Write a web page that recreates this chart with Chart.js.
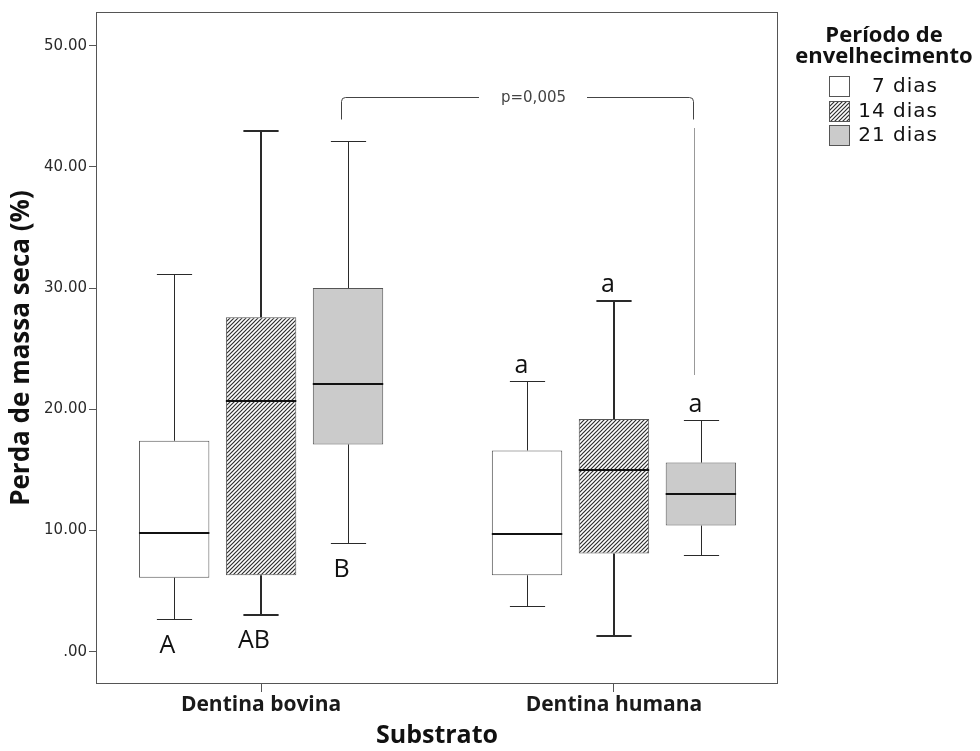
<!DOCTYPE html>
<html><head><meta charset="utf-8">
<script src="https://cdn.jsdelivr.net/npm/chart.js@4"></script>
<style>html,body{margin:0;padding:0;background:#fff}#wrap{width:980px;height:751px}</style>
</head><body><div id="wrap"><canvas id="c" width="980" height="751"></canvas></div>
<script>
// ---- data ----
const categories = ['Dentina bovina', 'Dentina humana'];
const categoryPositions = [1, 2];
const seriesNames = ['7 dias', '14 dias', '21 dias'];
// [series][category]
const lowerWhisker  = [[2.7, 3.8], [3.0, 1.3], [9.0, 8.0]];
const firstQuartile = [[6.1, 6.3], [6.3, 8.1], [17.1, 10.4]];
const medians       = [[9.8, 9.7], [20.7, 15.0], [22.1, 13.0]];
const thirdQuartile = [[17.4, 16.6], [27.6, 19.2], [30.0, 15.6]];
const upperWhisker  = [[31.2, 22.3], [43.0, 28.9], [42.1, 19.1]];
const groupLetters  = [['A', 'a'], ['AB', 'a'], ['B', 'a']];
const yTickValues = [0, 10, 20, 30, 40, 50];
const yTickLabels = ['.00', '10.00', '20.00', '30.00', '40.00', '50.00'];
const pValueLabel = 'p=0,005';
const bracketLevel = 45.8;
const legendTitle = ['Período de', 'envelhecimento'];
const yAxisTitle = 'Perda de massa seca (%)';
const xAxisTitle = 'Substrato';

// ---- styles ----
const canvas = document.getElementById('c');
const mainCtx = canvas.getContext('2d');
function makeHatch() {
  const p = document.createElement('canvas');
  p.width = 4; p.height = 4;
  const g = p.getContext('2d');
  g.fillStyle = '#ffffff'; g.fillRect(0, 0, 4, 4);
  g.strokeStyle = '#2e2e2e'; g.lineWidth = 1.2;
  g.beginPath();
  g.moveTo(0, 4); g.lineTo(4, 0);
  g.moveTo(-1, 1); g.lineTo(1, -1);
  g.moveTo(3, 5); g.lineTo(5, 3);
  g.stroke();
  return mainCtx.createPattern(p, 'repeat');
}
const fills = ['#ffffff', makeHatch(), '#cbcbcb'];
const whiskerWidths = [1, 2, 1];
const letterPlacement = ['below', 'above'];

const boxExtras = {
  id: 'boxExtras',
  afterDatasetsDraw(chart) {
    const ctx = chart.ctx, y = chart.scales.y;
    ctx.save();
    const centers = [];
    chart.data.datasets.forEach((ds, s) => {
      const meta = chart.getDatasetMeta(s);
      centers[s] = [];
      meta.data.forEach((bar, c) => {
        const lw = whiskerWidths[s];
        const off = lw % 2 ? 0.5 : 0;
        const cx = Math.round(bar.x) + off;
        centers[s][c] = cx;
        const half = bar.width / 2;
        const yMin = Math.round(y.getPixelForValue(lowerWhisker[s][c])) + off;
        const yMax = Math.round(y.getPixelForValue(upperWhisker[s][c])) + off;
        const yQ1 = y.getPixelForValue(firstQuartile[s][c]);
        const yQ3 = y.getPixelForValue(thirdQuartile[s][c]);
        const yMed = Math.round(y.getPixelForValue(medians[s][c]));
        ctx.strokeStyle = '#2a2a2a';
        ctx.lineWidth = lw;
        ctx.beginPath();
        ctx.moveTo(cx, yQ3); ctx.lineTo(cx, yMax);
        ctx.moveTo(cx - half / 2, yMax); ctx.lineTo(cx + half / 2, yMax);
        ctx.moveTo(cx, yQ1); ctx.lineTo(cx, yMin);
        ctx.moveTo(cx - half / 2, yMin); ctx.lineTo(cx + half / 2, yMin);
        ctx.stroke();
        ctx.strokeStyle = '#111';
        ctx.lineWidth = 2;
        ctx.beginPath();
        ctx.moveTo(bar.x - half, yMed); ctx.lineTo(bar.x + half, yMed);
        ctx.stroke();
        // letters
        ctx.fillStyle = '#111';
        ctx.font = '25px "Open Sans"';
        ctx.textAlign = 'center';
        ctx.textBaseline = 'alphabetic';
        if (letterPlacement[c] === 'below') {
          ctx.fillText(groupLetters[s][c], cx - 7, yMin + 33);
        } else {
          ctx.fillText(groupLetters[s][c], cx - 6, yMax - 9);
        }
      });
    });
    // significance bracket between 21 dias of both substrates
    const xl = Math.round(centers[2][0] - 8) + 0.5;
    const xr = Math.round(centers[2][1] - 9) + 0.5;
    const yt = Math.round(y.getPixelForValue(bracketLevel)) + 0.5;
    const yb = yt + 22;
    ctx.font = '15px "DejaVu Sans"';
    const tw = ctx.measureText(pValueLabel).width;
    const tc = (xl + xr) / 2 + 16;
    ctx.strokeStyle = '#444';
    ctx.lineWidth = 1;
    ctx.beginPath();
    ctx.moveTo(xl, yb);
    ctx.arcTo(xl, yt, xl + 5, yt, 4);
    ctx.lineTo(tc - tw / 2 - 22, yt);
    ctx.moveTo(tc + tw / 2 + 21, yt);
    ctx.arcTo(xr, yt, xr, yb, 4);
    ctx.lineTo(xr, yb);
    ctx.stroke();
    ctx.fillStyle = '#444';
    ctx.textAlign = 'center';
    ctx.textBaseline = 'middle';
    ctx.fillText(pValueLabel, tc, yt + 1);
    // dotted connector
    const dx = Math.round(centers[2][1] - 8) + 0.5;
    const dTop = yb + 9;
    const dBot = Math.round(y.getPixelForValue(upperWhisker[2][1])) - 45;
    ctx.strokeStyle = '#333';
    ctx.setLineDash([1, 1]);
    ctx.beginPath();
    ctx.moveTo(dx, dTop); ctx.lineTo(dx, dBot);
    ctx.stroke();
    ctx.restore();
  },
  afterDraw(chart) {
    const ctx = chart.ctx, a = chart.chartArea;
    ctx.save();
    ctx.strokeStyle = '#555';
    ctx.lineWidth = 1;
    ctx.strokeRect(Math.round(a.left) - 0.5, Math.round(a.top) + 0.5,
      Math.round(a.right - a.left) + 1, Math.round(a.bottom - a.top) - 1);
    // legend
    ctx.fillStyle = '#111';
    ctx.font = 'bold 22px "Open Sans"';
    ctx.textAlign = 'center';
    ctx.textBaseline = 'alphabetic';
    ctx.fillText(legendTitle[0], 884, 42);
    ctx.fillText(legendTitle[1], 884, 63);
    chart.data.datasets.forEach((ds, s) => {
      const by = 76 + s * 24.5;
      const top = Math.round(by) + 0.5;
      ctx.fillStyle = ds.backgroundColor;
      ctx.fillRect(829.5, top, 20, 20);
      ctx.strokeStyle = '#555';
      ctx.strokeRect(829.5, top, 20, 20);
      ctx.fillStyle = '#111';
      ctx.font = '20px "DejaVu Sans"';
      ctx.letterSpacing = '1px';
      ctx.textAlign = 'right';
      ctx.textBaseline = 'middle';
      ctx.fillText(ds.label, 938, top + 10);
      ctx.letterSpacing = '0px';
    });
    ctx.restore();
  }
};

new Chart(canvas, {
  type: 'bar',
  data: {
    datasets: seriesNames.map((name, s) => ({
      label: name,
      data: categoryPositions.map((x, c) => ({ x: x, y: [firstQuartile[s][c], thirdQuartile[s][c]] })),
      backgroundColor: fills[s],
      borderColor: '#555',
      borderWidth: 1,
      borderSkipped: false,
      categoryPercentage: 0.739,
      barPercentage: 0.81
    }))
  },
  options: {
    responsive: false,
    animation: false,
    devicePixelRatio: 1,
    events: [],
    layout: { padding: { top: 12, right: 203, left: 0, bottom: 0 } },
    plugins: { legend: { display: false }, tooltip: { enabled: false } },
    scales: {
      x: {
        type: 'linear',
        min: 0.535, max: 2.462,
        offset: false,
        afterBuildTicks: (s) => { s.ticks = categoryPositions.map(v => ({ value: v })); },
        afterFit: (s) => { s.height = 67; },
        ticks: {
          callback: (v) => categories[categoryPositions.indexOf(Math.round(v))],
          font: { family: 'Open Sans', weight: 'bold', size: 21 },
          color: '#1a1a1a',
          padding: 0,
          maxRotation: 0
        },
        grid: { drawOnChartArea: false, offset: false, tickLength: 8, color: '#555' },
        border: { display: false },
        title: {
          display: true, text: xAxisTitle,
          font: { family: 'Open Sans', weight: 'bold', size: 25 },
          color: '#111', padding: { top: 0, bottom: 0 }
        }
      },
      y: {
        min: -2.67, max: 52.78,
        afterBuildTicks: (s) => { s.ticks = yTickValues.map(v => ({ value: v })); },
        afterFit: (s) => { s.width = 97; },
        ticks: {
          callback: (v) => yTickLabels[yTickValues.indexOf(v)],
          font: { family: 'DejaVu Sans', size: 15 },
          color: '#2a2a2a',
          padding: 2
        },
        grid: { drawOnChartArea: false, tickLength: 8, color: '#555' },
        border: { display: false },
        title: {
          display: true, text: yAxisTitle,
          font: { family: 'Open Sans', weight: 'bold', size: 26 },
          color: '#111', padding: { top: 6, bottom: 0 }
        }
      }
    }
  },
  plugins: [boxExtras]
});
</script></body></html>
